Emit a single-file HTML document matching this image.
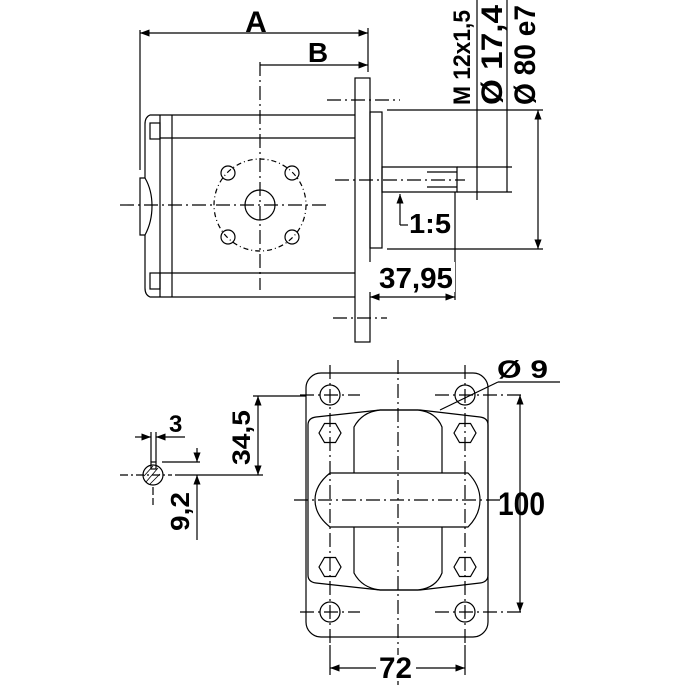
<!DOCTYPE html>
<html><head><style>body{margin:0;background:#fff}svg{display:block}text{font-family:"Liberation Sans",sans-serif;font-weight:bold;fill:#000}</style></head><body>
<svg width="700" height="700" viewBox="0 0 700 700" xmlns="http://www.w3.org/2000/svg">
<defs><marker id="a" markerWidth="8" markerHeight="6" refX="8" refY="3" orient="auto-start-reverse"><path d="M0,0L8,3L0,6z" fill="#000"/></marker></defs>
<g stroke="#000" stroke-width="1.2" fill="none">
<!-- top view -->
<line x1="140" y1="30" x2="140" y2="170"/><line x1="368" y1="28" x2="368" y2="72"/>
<line x1="140" y1="33" x2="368" y2="33" marker-start="url(#a)" marker-end="url(#a)"/>
<line x1="260" y1="65" x2="368" y2="65" marker-end="url(#a)"/>
<line x1="260" y1="62" x2="260" y2="290" stroke-dasharray="14,4,2,4"/>
<rect x="355" y="78" width="15" height="264"/>
<path d="M160,115H355M160,138H355M160,273H355M160,297H355M160,115V297M172,115V297"/>
<path d="M160,115H150Q145,117 145,124V178M160,297H150Q145,295 145,288V235"/>
<path d="M145,178Q152,190 152,206Q152,222 145,235H140V178Z"/>
<rect x="150" y="123" width="10" height="16"/><rect x="150" y="273" width="10" height="16"/>
<rect x="370" y="112" width="12" height="136"/>
<path d="M382,167H457V192H382ZM427,172H457V187H427"/>
<line x1="120" y1="205" x2="330" y2="205" stroke-dasharray="14,4,2,4"/>
<line x1="335" y1="180" x2="465" y2="180" stroke-dasharray="14,4,2,4"/>
<circle cx="260" cy="205" r="46" stroke-dasharray="5,3,1,3"/>
<circle cx="260" cy="205" r="15"/>
<circle cx="228" cy="173" r="7"/><circle cx="292" cy="173" r="7"/><circle cx="228" cy="237" r="7"/><circle cx="292" cy="237" r="7"/>
<line x1="327" y1="100" x2="400" y2="100" stroke-dasharray="14,4,2,4"/>
<line x1="333" y1="318" x2="387" y2="318" stroke-dasharray="14,4,2,4"/>
<line x1="387" y1="110" x2="543" y2="110"/><line x1="387" y1="249" x2="543" y2="249"/>
<line x1="538" y1="110" x2="538" y2="249" marker-start="url(#a)" marker-end="url(#a)"/>
<line x1="477" y1="0" x2="477" y2="200"/><line x1="507" y1="0" x2="507" y2="192"/>
<line x1="457" y1="167" x2="512" y2="167"/><line x1="457" y1="192" x2="512" y2="192"/>
<line x1="400" y1="225" x2="400" y2="194" marker-end="url(#a)"/><line x1="400" y1="225" x2="408" y2="225"/>
<line x1="455" y1="192" x2="455" y2="300"/>
<line x1="370" y1="297" x2="455" y2="297" marker-start="url(#a)" marker-end="url(#a)"/>
<!-- bottom view -->
<rect x="306" y="373" width="182" height="264" rx="15"/>
<path d="M308,425Q308,418 316,417L380,410H420L480,417Q488,418 488,425V575Q488,582 480,583L420,590H380L316,583Q308,582 308,575Z"/>
<path d="M354,473V427Q362,412 380,410H418Q436,412 442,427V473M354,527V573Q362,588 380,590H418Q436,588 442,573V527"/>
<path d="M330,473H468Q480,485 480,500Q480,515 468,527H330Q315,515 315,500Q315,485 330,473Z"/>
<g id="h"><polygon points="319,433 324.5,423.5 335.5,423.5 341,433 335.5,442.5 324.5,442.5"/></g>
<use href="#h" x="135"/><use href="#h" y="134"/><use href="#h" x="135" y="134"/>
<circle cx="330" cy="395" r="10"/><circle cx="465" cy="395" r="10"/><circle cx="330" cy="612" r="10"/><circle cx="465" cy="612" r="10"/>
<g stroke-dasharray="14,4,2,4"><line x1="398" y1="360" x2="398" y2="685"/><line x1="294" y1="500" x2="500" y2="500"/>
<line x1="300" y1="395" x2="360" y2="395"/><line x1="435" y1="395" x2="525" y2="395"/><line x1="300" y1="612" x2="360" y2="612"/><line x1="435" y1="612" x2="525" y2="612"/>
<line x1="330" y1="365" x2="330" y2="645"/><line x1="465" y1="365" x2="465" y2="645"/></g>
<line x1="330" y1="645" x2="330" y2="675"/><line x1="465" y1="645" x2="465" y2="675"/>
<line x1="330" y1="668" x2="465" y2="668" marker-start="url(#a)" marker-end="url(#a)"/>
<line x1="520" y1="395" x2="520" y2="612" marker-start="url(#a)" marker-end="url(#a)"/>
<line x1="440" y1="410" x2="498" y2="382"/><line x1="498" y1="382" x2="560" y2="382"/>
<!-- small view -->
<line x1="253" y1="396" x2="306" y2="396"/>
<line x1="175" y1="475" x2="263" y2="475"/>
<line x1="258" y1="396" x2="258" y2="475" marker-start="url(#a)" marker-end="url(#a)"/>
<circle cx="153" cy="475" r="10"/>
<path d="M146,482L158,468M150,484L160,474M144,476L153,466" stroke-width="0.8"/>
<rect x="151" y="462" width="5" height="7"/>
<line x1="120" y1="475" x2="172" y2="475" stroke-dasharray="8,3,2,3"/>
<line x1="153" y1="487" x2="153" y2="505" stroke-dasharray="8,3"/>
<line x1="151" y1="432" x2="151" y2="462"/><line x1="156" y1="432" x2="156" y2="462"/>
<line x1="135" y1="437" x2="151" y2="437" marker-end="url(#a)"/><line x1="185" y1="437" x2="156" y2="437" marker-end="url(#a)"/>
<line x1="162" y1="462" x2="200" y2="462"/>
<line x1="197" y1="448" x2="197" y2="462" marker-end="url(#a)"/>
<line x1="197" y1="540" x2="197" y2="475" marker-end="url(#a)"/>
</g>
<rect x="365" y="262" width="90" height="30" fill="#fff"/>
<text x="256" y="32" font-size="30" text-anchor="middle">A</text>
<text x="318" y="62" font-size="28" text-anchor="middle">B</text>
<text transform="translate(470,105) rotate(-90)" font-size="24" textLength="95" lengthAdjust="spacingAndGlyphs">M 12x1,5</text>
<text transform="translate(502,105) rotate(-90)" font-size="30" textLength="100" lengthAdjust="spacingAndGlyphs">Ø 17,4</text>
<text transform="translate(535,105) rotate(-90)" font-size="30" textLength="100" lengthAdjust="spacingAndGlyphs">Ø 80 e7</text>
<text x="409" y="233" font-size="28" textLength="42" lengthAdjust="spacingAndGlyphs">1:5</text>
<text x="379" y="288" font-size="29" textLength="74" lengthAdjust="spacingAndGlyphs">37,95</text>
<text x="497" y="378" font-size="25" textLength="51" lengthAdjust="spacingAndGlyphs">Ø 9</text>
<text x="498" y="515" font-size="32" textLength="47" lengthAdjust="spacingAndGlyphs">100</text>
<rect x="376" y="655" width="40" height="26" fill="#fff"/>
<text x="379" y="678" font-size="30" textLength="33" lengthAdjust="spacingAndGlyphs">72</text>
<text x="169" y="432" font-size="24">3</text>
<text transform="translate(250,465) rotate(-90)" font-size="25" textLength="55" lengthAdjust="spacingAndGlyphs">34,5</text>
<text transform="translate(189,531) rotate(-90)" font-size="26" textLength="39" lengthAdjust="spacingAndGlyphs">9,2</text>
</svg>
</body></html>
